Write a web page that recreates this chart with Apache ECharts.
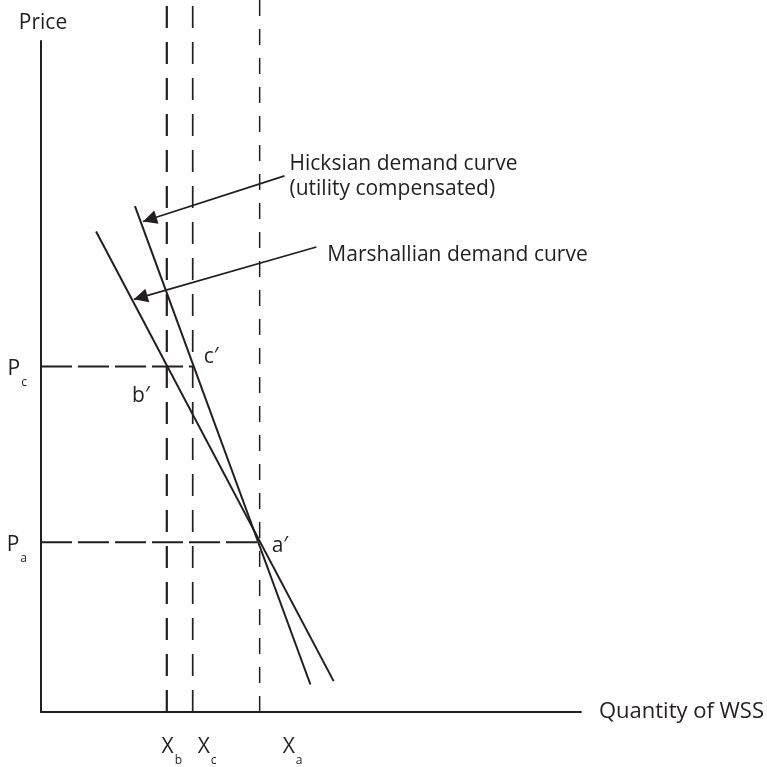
<!DOCTYPE html>
<html><head><meta charset="utf-8">
<script src="https://cdn.jsdelivr.net/npm/echarts@6/dist/echarts.min.js"></script>
<style>html,body{margin:0;padding:0;background:#fff}#c{width:767px;height:767px}</style>
</head><body><div id="c"></div>
<script>
// ---- data (quantity on x, price on y, arbitrary 0-100 units) ----
const quantityValues = [23.3, 28.1, 40.5];      // X_b, X_c, X_a
const quantitySubs = ['b', 'c', 'a'];
const priceValues = [51.5, 25.3];               // P_c, P_a
const priceSubs = ['c', 'a'];
const hicksianCurve = [[17.4, 75.4], [49.9, 4.1]];
const marshallianCurve = [[10.2, 71.6], [54.2, 4.6]];
const hicksianArrow = [[45.1, 79.9], [18.9, 73.1]];     // tail, head
const marshallianArrow = [[51.0, 69.3], [17.2, 61.5]];  // tail, head
const pointNames = ['a′', 'b′', 'c′'];
const pointValues = [[quantityValues[2], priceValues[1]], [quantityValues[0], priceValues[0]], [quantityValues[1], priceValues[0]]];
const xName = 'Quantity of WSS';
const yName = 'Price';
const curveTexts = ['Hicksian demand curve\n(utility compensated)', 'Marshallian demand curve'];
const topOfPicture = 106.1; // dashed verticals run past the axis top to the picture edge

const INK = '#231f20';
const FONT = 'Open Sans';
const FS = 21;

const chart = echarts.init(document.getElementById('c'), null, {renderer: 'canvas'});

const vDash = [
  {w: 2.2, dash: [22, 14]},
  {w: 1.7, dash: [22, 14]},
  {w: 1.5, dash: [16, 13]}
];

const series = [];
series.push({type: 'line', name: 'Hicksian', data: hicksianCurve, symbol: 'none', lineStyle: {color: INK, width: 2}, silent: true});
series.push({type: 'line', name: 'Marshallian', data: marshallianCurve, symbol: 'none', lineStyle: {color: INK, width: 2}, silent: true});
quantityValues.forEach((q, i) => {
  series.push({type: 'line', data: [[q, 0], [q, topOfPicture]], symbol: 'none', clip: false, silent: true,
    lineStyle: {color: INK, width: vDash[i].w, type: vDash[i].dash}});
});
// horizontal dashed lines: P_c to X_c, P_a to X_a
[[priceValues[0], quantityValues[1]], [priceValues[1], quantityValues[2]]].forEach(([p, q]) => {
  series.push({type: 'line', data: [[0, p], [q, p]], symbol: 'none', silent: true,
    lineStyle: {color: INK, width: 2, type: [31, 6]}});
});
// annotation arrows
series.push({type: 'line', data: [], silent: true,
  markLine: {
    silent: true, animation: false,
    symbol: ['none', 'triangle'], symbolSize: 14, symbolOffset: [[0, 0], [0, 7]],
    lineStyle: {color: INK, width: 1.8, type: 'solid'},
    emphasis: {disabled: true},
    label: {show: false},
    data: [
      [{coord: hicksianArrow[0]}, {coord: hicksianArrow[1]}],
      [{coord: marshallianArrow[0]}, {coord: marshallianArrow[1]}]
    ]
  }
});
// annotation texts at the arrow tails
const curveTextStyles = [
  {position: 'right', distance: 5, offset: [0, 1]},
  {position: 'right', distance: 11, offset: [0, 8]}
];
series.push({type: 'scatter', symbolSize: 0, itemStyle: {color: INK, opacity: 1}, silent: true,
  label: {show: true, formatter: '{b}', color: INK, opacity: 1, fontFamily: FONT, fontSize: FS, lineHeight: 25, align: 'left'},
  data: curveTexts.map((t, i) => ({name: t, value: [hicksianArrow, marshallianArrow][i][0], label: curveTextStyles[i]}))
});
// labelled points
const pointLabelStyles = [
  {position: 'right', distance: 12, offset: [0, 4]},
  {position: 'left', distance: 17, offset: [0, 30]},
  {position: 'right', distance: 11, offset: [0, -9]}
];
series.push({type: 'scatter', symbolSize: 0, itemStyle: {color: INK, opacity: 1}, silent: true,
  label: {show: true, formatter: '{b}', color: INK, opacity: 1, fontFamily: FONT, fontSize: FS},
  data: pointNames.map((n, i) => ({name: n, value: pointValues[i], label: pointLabelStyles[i]}))
});

const subRich = {fontSize: 12, height: 12, lineHeight: 40, padding: [28, 0, 0, 1], fontFamily: FONT, color: INK};
const mainRich = pad => ({fontSize: FS, lineHeight: 40, padding: [0, 0, 0, pad], fontFamily: FONT, color: INK});

const option = {
  animation: false,
  backgroundColor: '#fff',
  grid: {left: 41, right: 185, top: 41, bottom: 46, containLabel: false},
  xAxis: {
    type: 'value', min: 0, max: 100,
    name: xName, nameLocation: 'end', nameGap: 18,
    nameTextStyle: {fontSize: 22, fontFamily: FONT, color: INK, verticalAlign: 'middle', padding: [0, 0, 8, 0]},
    axisLine: {show: true, lineStyle: {color: INK, width: 2}},
    axisTick: {show: false}, splitLine: {show: false},
    axisLabel: {
      customValues: quantityValues, margin: 15, hideOverlap: false, showMinLabel: true, showMaxLabel: true,
      align: 'left', alignMinLabel: 'center',
      formatter: v => { const i = quantityValues.indexOf(v); return '{m' + i + '|X}{s|' + quantitySubs[i] + '}'; },
      rich: {m0: mainRich(10), m1: mainRich(5), m2: mainRich(23), s: subRich}
    }
  },
  yAxis: {
    type: 'value', min: 0, max: 100,
    name: yName, nameLocation: 'end', nameGap: 7,
    nameTextStyle: {fontSize: FS, fontFamily: FONT, color: INK, align: 'center', padding: [0, 0, 0, 4]},
    axisLine: {show: true, lineStyle: {color: INK, width: 2}},
    axisTick: {show: false}, splitLine: {show: false},
    axisLabel: {
      customValues: priceValues, margin: 14, hideOverlap: false, showMinLabel: true, showMaxLabel: true,
      formatter: v => { const i = priceValues.indexOf(v); return '{m|P}{s|' + priceSubs[i] + '}'; },
      rich: {
        m: {fontSize: FS, lineHeight: 40, padding: [6, 0, 0, 0], fontFamily: FONT, color: INK},
        s: {fontSize: 12, height: 12, lineHeight: 40, padding: [33, 0, 0, 1], fontFamily: FONT, color: INK}
      }
    }
  },
  series: series
};
chart.setOption(option);
</script>
</body></html>
